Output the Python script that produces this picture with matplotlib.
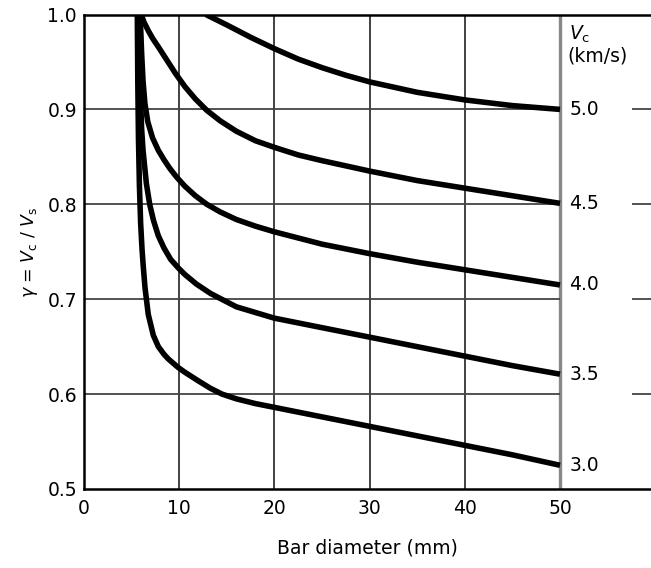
import matplotlib
matplotlib.use('Agg')
import matplotlib.pyplot as plt

plt.rcParams['font.family'] = ['DejaVu Sans']
plt.rcParams['mathtext.fontset'] = 'dejavusans'

# gamma = Vc/Vs against bar diameter, one curve per concrete velocity
vc_labels = ['3.0', '3.5', '4.0', '4.5', '5.0']

d_30 = [5.6, 5.65, 5.72, 5.82, 5.95, 6.1, 6.23, 6.41, 6.75, 7.28, 7.81, 8.4, 8.86,
        9.9, 10.6, 12, 13.3, 14.5, 16, 18, 20, 25, 30, 35, 40, 45, 50]
g_30 = [1.0, 0.93, 0.87, 0.82, 0.78, 0.752, 0.734, 0.712, 0.684, 0.662, 0.650, 0.642, 0.637,
        0.628, 0.623, 0.614, 0.606, 0.600, 0.595, 0.590, 0.586, 0.576, 0.566, 0.556, 0.546, 0.536, 0.525]

d_35 = [5.75, 5.85, 5.95, 6.05, 6.2, 6.55, 6.9, 7.3, 7.8, 8.4, 9.1, 9.9, 10.6,
        11.8, 13.3, 16, 20, 25, 30, 35, 40, 45, 50]
g_35 = [1.0, 0.95, 0.91, 0.88, 0.857, 0.822, 0.800, 0.783, 0.767, 0.754, 0.742, 0.733, 0.726,
        0.716, 0.706, 0.692, 0.680, 0.670, 0.660, 0.650, 0.640, 0.630, 0.621]

d_40 = [5.9, 6.05, 6.2, 6.4, 6.7, 7.2, 7.8, 8.4, 9.0, 9.7, 10.6, 11.7, 12.9, 14.3,
        16, 18, 20, 25, 30, 35, 40, 45, 50]
g_40 = [1.0, 0.96, 0.93, 0.906, 0.887, 0.870, 0.857, 0.847, 0.838, 0.829, 0.819, 0.809, 0.800, 0.792,
        0.784, 0.777, 0.771, 0.758, 0.748, 0.739, 0.731, 0.723, 0.715]

d_45 = [6.0, 6.3, 6.75, 7.2, 7.8, 8.7, 9.6, 10.6, 11.7, 12.9, 14.3, 16, 18, 20,
        22.5, 25, 30, 35, 40, 45, 50]
g_45 = [1.0, 0.992, 0.983, 0.975, 0.966, 0.952, 0.938, 0.924, 0.911, 0.899, 0.888, 0.877, 0.867, 0.860,
        0.852, 0.846, 0.835, 0.825, 0.817, 0.809, 0.801]

d_50 = [12.8, 15, 17.5, 20, 22.5, 25, 27.5, 30, 35, 40, 45, 50]
g_50 = [1.0, 0.989, 0.976, 0.964, 0.953, 0.944, 0.936, 0.929, 0.918, 0.910, 0.904, 0.900]

curves = [(d_30, g_30), (d_35, g_35), (d_40, g_40), (d_45, g_45), (d_50, g_50)]

x_ticks = [0, 10, 20, 30, 40, 50]
y_ticks = [0.5, 0.6, 0.7, 0.8, 0.9, 1.0]

fig = plt.figure(figsize=(6.51, 5.68), dpi=100)
ax = fig.add_axes([84 / 651, 1 - 489 / 568, 1 - 84 / 651, (489 - 14.5) / 568])
x_max = (651 - 84) / 9.52
ax.set_xlim(0, x_max)
ax.set_ylim(0.5, 1.0)

# grid
ax.vlines([10, 20, 30, 40], 0.5, 1.0, color='#333333', lw=1.3, zorder=1)
ax.vlines([50], 0.5, 1.0, color='#888888', lw=2.4, zorder=1)
ax.hlines(y_ticks[1:-1], 0, 50, color='#444444', lw=1.3, zorder=1)
ax.hlines(y_ticks[1:-1], 57.6, x_max, color='#444444', lw=1.3, zorder=1)

for (d, g), lab in zip(curves, vc_labels):
    ax.plot(d, g, color='black', lw=4.0, solid_joinstyle='round',
            solid_capstyle='butt', zorder=3)
    ax.text(51.0, g[-1], lab, ha='left', va='center', fontsize=13.5)

ax.text(50.9, 0.979, r'$V_\mathrm{c}$', ha='left', va='center', fontsize=13.5)
ax.text(50.8, 0.956, '(km/s)', ha='left', va='center', fontsize=13.5)

for side in ('left', 'bottom', 'top'):
    ax.spines[side].set_linewidth(1.8)
    ax.spines[side].set_color('black')
ax.spines['right'].set_visible(False)

ax.set_xticks(x_ticks)
ax.set_yticks(y_ticks)
ax.set_yticklabels([f'{v:.1f}' for v in y_ticks])
ax.tick_params(length=0, labelsize=13.5)
ax.tick_params(axis='x', pad=7)
ax.tick_params(axis='y', pad=5)

ax.set_xlabel('Bar diameter (mm)', fontsize=13.5, labelpad=15)
ax.set_ylabel(r'$\gamma$ = $V_\mathrm{c}$ / $V_\mathrm{s}$', fontsize=12.5, labelpad=5)

fig.savefig('out.png', dpi=100)
